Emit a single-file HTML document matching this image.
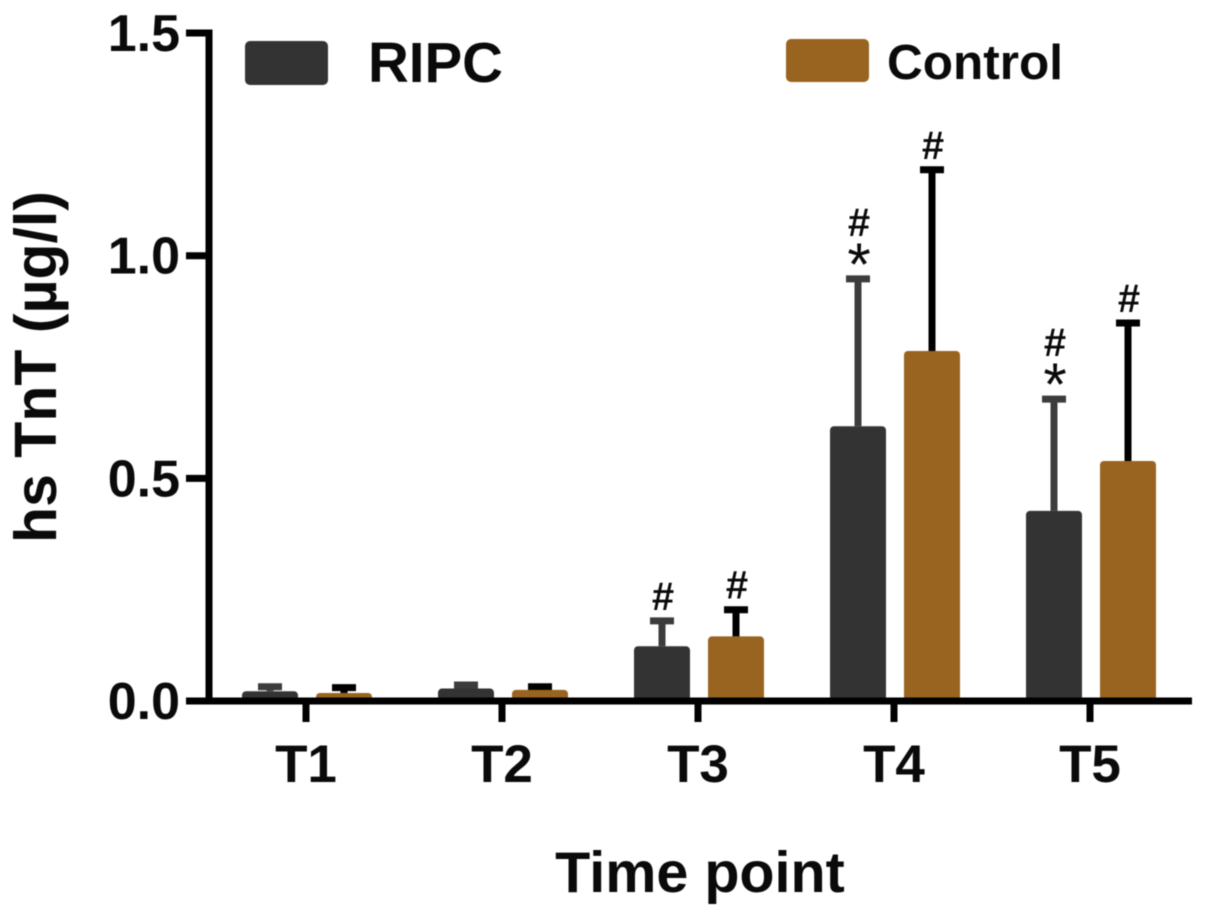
<!DOCTYPE html>
<html>
<head>
<meta charset="utf-8">
<style>
html,body{margin:0;padding:0;background:#fff;width:1205px;height:917px;overflow:hidden}
svg{display:block;font-family:"Liberation Sans",sans-serif;filter:blur(.6px)}
text{font-weight:bold;fill:#0a0a0a}
</style>
</head>
<body>
<svg id="chart" width="1205" height="917" viewBox="0 0 1205 917" xmlns="http://www.w3.org/2000/svg">
<text transform="translate(56,367) rotate(-90)" font-size="59" text-anchor="middle">hs TnT (µg/l)</text>
<text x="700" y="892" font-size="57.5" text-anchor="middle">Time point</text>
<rect x="245" y="41" width="83" height="44" rx="5" fill="#333333"/>
<text x="368" y="82" font-size="56.5" style="font-weight:bold">RIPC</text>
<rect x="786" y="39" width="83" height="43" rx="5" fill="#996320"/>
<text x="887" y="79" font-size="49.5">Control</text>
<g id="marks"></g>
<g id="axes"></g>
</svg>
<script>
const categories = ['T1', 'T2', 'T3', 'T4', 'T5'];
const ripcMeans = [0.022, 0.028, 0.123, 0.617, 0.427];
const ripcUpper = [0.032, 0.036, 0.180, 0.948, 0.678];
const controlMeans = [0.018, 0.025, 0.145, 0.786, 0.539];
const controlUpper = [0.030, 0.032, 0.205, 1.193, 0.849];
const ripcMarkers = ['', '', '#', '#*', '#*'];
const controlMarkers = ['', '', '#', '#', '#'];
const yTicks = ['0.0', '0.5', '1.0', '1.5'];

const NS = 'http://www.w3.org/2000/svg';
const yScale = v => 701 - v * 445.3;
const xScale = i => 307 + i * 196;
const marks = document.getElementById('marks');
const axes = document.getElementById('axes');

function make(parent, tag, attrs, content) {
  const el = document.createElementNS(NS, tag);
  for (const k in attrs) el.setAttribute(k, attrs[k]);
  if (content !== undefined) el.textContent = content;
  parent.appendChild(el);
  return el;
}

function drawSeries(means, uppers, markers, offset, fill, errColor, key) {
  means.forEach((m, i) => {
    const left = xScale(i) + offset;
    const cx = left + 28;
    const top = yScale(m);
    const capY = yScale(uppers[i]);
    const stem = make(marks, 'line', {x1: cx, x2: cx, y1: capY, y2: top, stroke: errColor, 'stroke-width': 7});
    
    
    const cap = make(marks, 'line', {x1: cx - 12, x2: cx + 12, y1: capY, y2: capY, stroke: errColor, 'stroke-width': 7});
    
    
    const bar = make(marks, 'rect', {x: left, y: top, width: 56, height: 701 - top, rx: 4, fill: fill});
    
    
    const hasStar = markers[i].includes('*');
    if (hasStar) {
      const star = make(marks, 'text', {x: cx + 1, y: capY + 6, 'font-size': 60, 'text-anchor': 'middle', style: 'font-weight:normal'}, '*');
      
      
    }
    if (markers[i].includes('#')) {
      const hash = make(marks, 'text', {x: cx + 1, y: hasStar ? capY - 43 : capY - 11, 'font-size': 40, 'text-anchor': 'middle'}, '#');
      
      
    }
  });
}

drawSeries(ripcMeans, ripcUpper, ripcMarkers, -65, '#333333', '#3c3c3c', 'ripc');
drawSeries(controlMeans, controlUpper, controlMarkers, 9, '#996320', '#000000', 'control');

const yAxis = make(axes, 'line', {x1: 209, x2: 209, y1: 29.5, y2: 704.5, stroke: '#000', 'stroke-width': 7});


const xAxis = make(axes, 'line', {x1: 186, x2: 1192, y1: 701, y2: 701, stroke: '#000', 'stroke-width': 7});



yTicks.forEach(t => {
  const y = yScale(parseFloat(t));
  const tick = make(axes, 'line', {x1: 186, x2: 209, y1: y, y2: y, stroke: '#000', 'stroke-width': 7});
  
  
  const label = make(axes, 'text', {x: 180, y: y + 18, 'font-size': 52, 'text-anchor': 'end'}, t);
  
  
});

categories.forEach((c, i) => {
  const x = xScale(i) - 1;
  const tick = make(axes, 'line', {x1: x, x2: x, y1: 701, y2: 722, stroke: '#000', 'stroke-width': 7});
  
  
  const label = make(axes, 'text', {x: x, y: 782, 'font-size': 53, 'text-anchor': 'middle'}, c);
  
  
});
</script>
</body>
</html>
